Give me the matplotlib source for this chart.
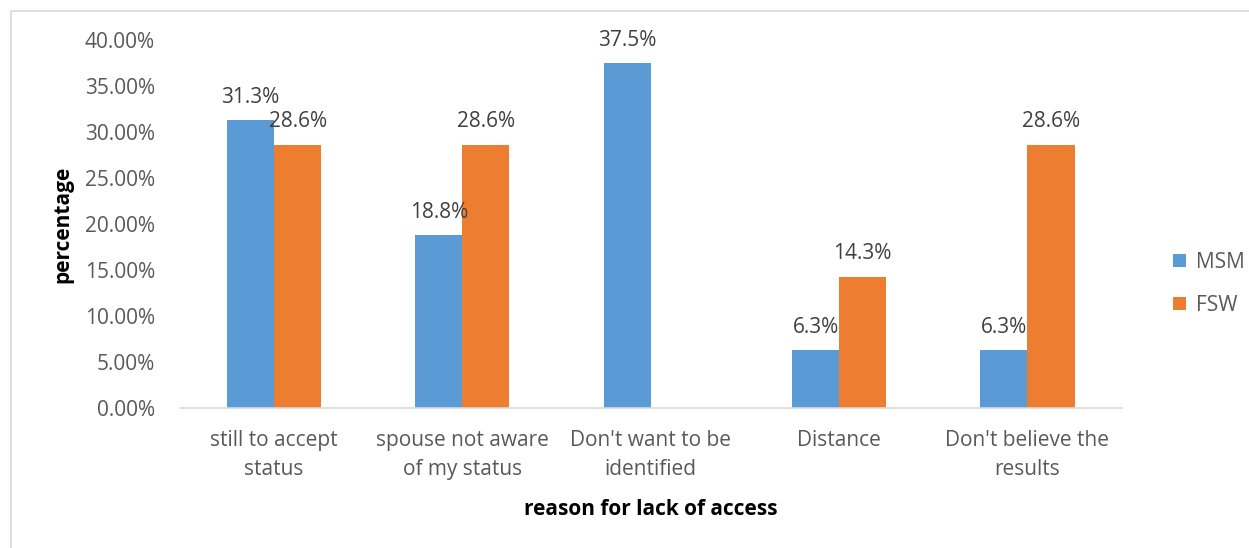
import matplotlib.pyplot as plt
import numpy as np
from matplotlib.ticker import FuncFormatter
from matplotlib.patches import Rectangle

categories = ['still to accept\nstatus', 'spouse not aware\nof my status', "Don't want to be\nidentified",
              'Distance', "Don't believe the\nresults"]
msm = [31.3, 18.8, 37.5, 6.3, 6.3]
fsw = [28.6, 28.6, None, 14.3, 28.6]
series_names = ['MSM', 'FSW']
colors = ['#5b9bd5', '#ed7d31']
text_gray = '#595959'

plt.rcParams['font.family'] = ['Open Sans', 'DejaVu Sans']
fs = 15

fig = plt.figure(figsize=(12.49, 5.48), dpi=100)
ax = fig.add_axes([0.144, 0.255, 0.754, 0.672])

# outer frame like the exported chart area
fig.patches.append(Rectangle((11 / 1249, -0.05), 1.2, 1 - 11 / 548 + 0.05, transform=fig.transFigure,
                             fill=False, edgecolor='#d9d9d9', linewidth=1.2))

x = np.arange(len(categories))
w = 0.25
for i, (vals, name, c) in enumerate(zip([msm, fsw], series_names, colors)):
    pos = x + (i - 0.5) * w
    for p, v in zip(pos, vals):
        if v is None:
            continue
        ax.bar(p, v / 100, w, color=c, label=name if p == pos[0] else None)
        ax.annotate('{:.1f}%'.format(v), (p, v / 100), xytext=(0, 9), textcoords='offset points',
                    ha='center', va='bottom', fontsize=fs, color='#404040')

ax.set_xlim(-0.5, len(categories) - 0.5)
ax.set_ylim(0, 0.40)
ax.set_yticks(np.arange(0, 0.401, 0.05))
ax.yaxis.set_major_formatter(FuncFormatter(lambda y, _: '{:.2f}%'.format(y * 100)))
ax.set_xticks(x)
ax.set_xticklabels(categories, linespacing=1.45)
ax.tick_params(axis='both', length=0, labelsize=fs, labelcolor=text_gray)
ax.tick_params(axis='y', pad=18)
ax.tick_params(axis='x', pad=16)

for s in ['top', 'right', 'left']:
    ax.spines[s].set_visible(False)
ax.spines['bottom'].set_color('#d9d9d9')
ax.spines['bottom'].set_linewidth(1.2)

ax.set_ylabel('percentage', fontsize=fs, fontweight='bold', color='black', labelpad=8)
ax.set_xlabel('reason for lack of access', fontsize=fs, fontweight='bold', color='black', labelpad=14)

leg = ax.legend(loc='center left', bbox_to_anchor=(1.035, 0.337), frameon=False, fontsize=fs,
                handlelength=0.6, handleheight=0.6, labelspacing=1.05, handletextpad=0.5)
for t in leg.get_texts():
    t.set_color(text_gray)

fig.savefig('out.png', dpi=100)
